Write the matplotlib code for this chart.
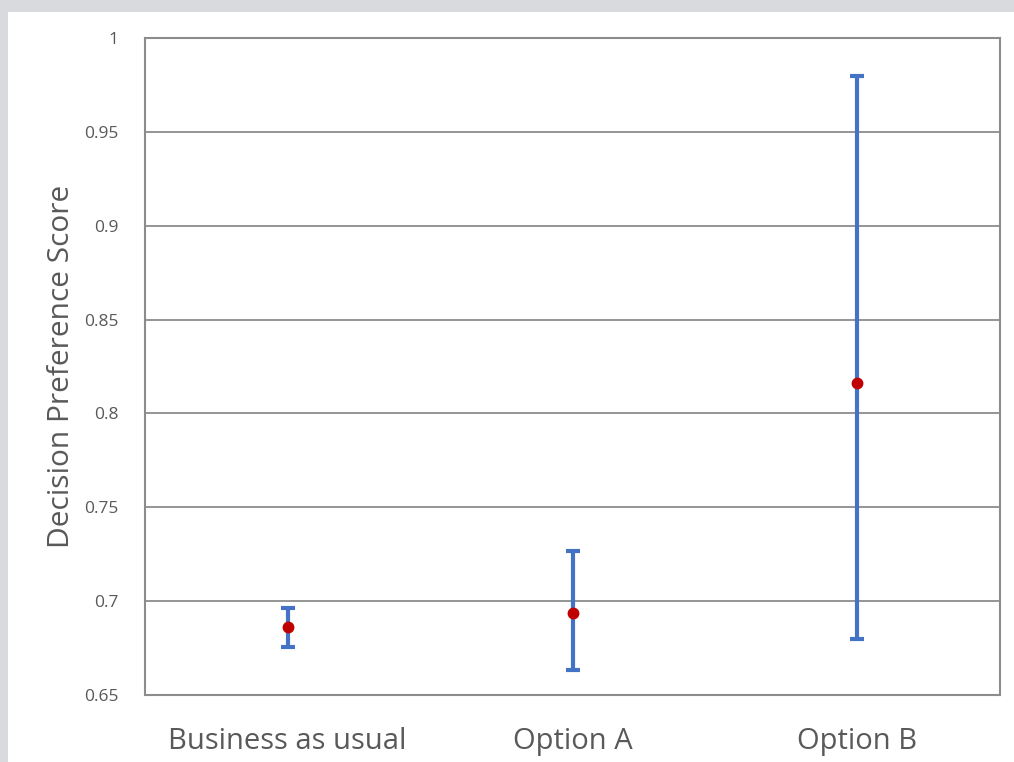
import matplotlib
matplotlib.use("Agg")
import matplotlib.pyplot as plt
from matplotlib.patches import Rectangle
import numpy as np

categories = ["Business as usual", "Option A", "Option B"]
means = [0.686, 0.6935, 0.816]
upper = [0.6965, 0.7265, 0.980]
lower = [0.6755, 0.6635, 0.680]

plt.rcParams["font.family"] = ["Open Sans", "DejaVu Sans"]

fig = plt.figure(figsize=(10.14, 7.62), dpi=100)
fig.patch.set_facecolor("#d9dadd")
# white panel inside the grey frame
fig.add_artist(Rectangle((8 / 1014, 0), 1, 1 - 12 / 762, transform=fig.transFigure,
                         facecolor="white", edgecolor="none", zorder=-10))

ax = fig.add_axes([145 / 1014, 67 / 762, 855 / 1014, 657 / 762])
ax.set_zorder(1)
ax.set_facecolor("white")

x = np.arange(len(categories))
m = np.array(means)
yerr = [m - np.array(lower), np.array(upper) - m]
ax.errorbar(x, m, yerr=yerr, fmt="o", color="#c00000", markersize=7.5,
            ecolor="#4472c4", elinewidth=3, capsize=5, capthick=3, zorder=3)

ax.set_xlim(-0.5, 2.5)
ax.set_ylim(0.65, 1.0)
ax.set_yticks([0.65, 0.7, 0.75, 0.8, 0.85, 0.9, 0.95, 1.0])
ax.set_yticklabels(["0.65", "0.7", "0.75", "0.8", "0.85", "0.9", "0.95", "1"])
ax.set_xticks(x)
ax.set_xticklabels(categories)
ax.yaxis.grid(True, color="#8c8c8c", lw=1.3)
ax.set_axisbelow(True)
for s in ax.spines.values():
    s.set_color("#8c8c8c")
    s.set_linewidth(1.5)
ax.tick_params(axis="y", length=0, labelsize=12.5, labelcolor="#595959", pad=19)
ax.tick_params(axis="x", length=0, labelsize=21, labelcolor="#595959", pad=23)
ax.set_ylabel("Decision Preference Score", fontsize=21.5, color="#595959", labelpad=6)

fig.savefig("out.png", dpi=100)
